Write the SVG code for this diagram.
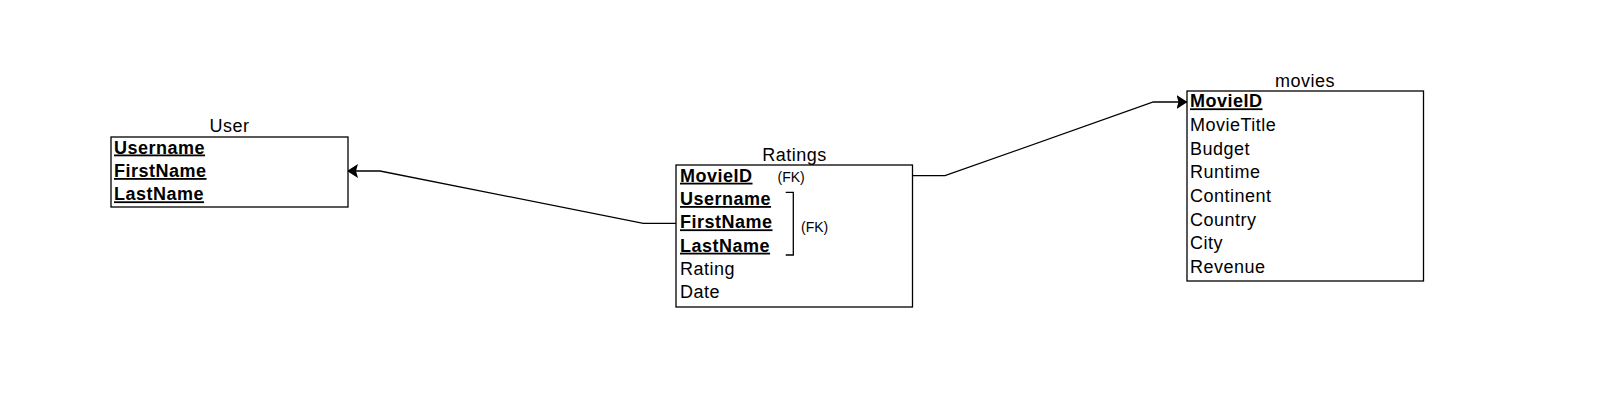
<svg xmlns="http://www.w3.org/2000/svg" width="1620" height="412" viewBox="0 0 1620 412">
<style>
  .box { fill: #ffffff; stroke: #000000; stroke-width: 1.3; }
  .t { font-family: "Liberation Sans", Arial, sans-serif; font-size: 18px; letter-spacing: 0.5px; fill: #000; }
  .title { text-anchor: middle; }
  .k { font-weight: bold; text-decoration: underline; }
  .fk { font-family: "Liberation Sans", Arial, sans-serif; font-size: 14px; fill: #000; }
  .edge { fill: none; stroke: #000; stroke-width: 1.3; }
</style>
<defs>
  <marker id="arrow" viewBox="0 0 11 14" refX="10.5" refY="7" markerWidth="11" markerHeight="14" markerUnits="userSpaceOnUse" orient="auto">
    <path d="M0,0 L11,7 L0,14 L2,7 z" fill="#000"/>
  </marker>
</defs>
<rect width="1620" height="412" fill="#ffffff"/>
<g id="connectors">
  <path class="edge" d="M676,223.3 H643.3 L380,171 H347.5" marker-end="url(#arrow)"/>
  <path class="edge" d="M912.5,175.7 H945 L1153.3,102 H1187" marker-end="url(#arrow)"/>
</g>
<g id="User">
  <text class="t title" x="229.5" y="131.5">User</text>
  <rect class="box" x="111" y="137" width="237" height="70"/>
  <text class="t k" x="114" y="153.5">Username</text>
  <text class="t k" x="114" y="177">FirstName</text>
  <text class="t k" x="114" y="200.3">LastName</text>
</g>
<g id="Ratings">
  <text class="t title" x="794.5" y="160.5">Ratings</text>
  <rect class="box" x="676" y="165" width="236.5" height="142"/>
  <text class="t k" x="680" y="181.7">MovieID</text>
  <text class="t k" x="680" y="205">Username</text>
  <text class="t k" x="680" y="228.3">FirstName</text>
  <text class="t k" x="680" y="251.7">LastName</text>
  <text class="t" x="680" y="275">Rating</text>
  <text class="t" x="680" y="298.3">Date</text>
  <text class="fk" x="777.5" y="181.5">(FK)</text>
  <path class="edge" d="M785.7,192.3 H793.3 V255 H785.7"/>
  <text class="fk" x="801" y="231.5">(FK)</text>
</g>
<g id="movies">
  <text class="t title" x="1305" y="86.5">movies</text>
  <rect class="box" x="1187" y="91" width="236.5" height="190"/>
  <text class="t k" x="1190" y="107.3">MovieID</text>
  <text class="t" x="1190" y="131">MovieTitle</text>
  <text class="t" x="1190" y="154.6">Budget</text>
  <text class="t" x="1190" y="178.3">Runtime</text>
  <text class="t" x="1190" y="201.9">Continent</text>
  <text class="t" x="1190" y="225.6">Country</text>
  <text class="t" x="1190" y="249.2">City</text>
  <text class="t" x="1190" y="272.9">Revenue</text>
</g>
</svg>
